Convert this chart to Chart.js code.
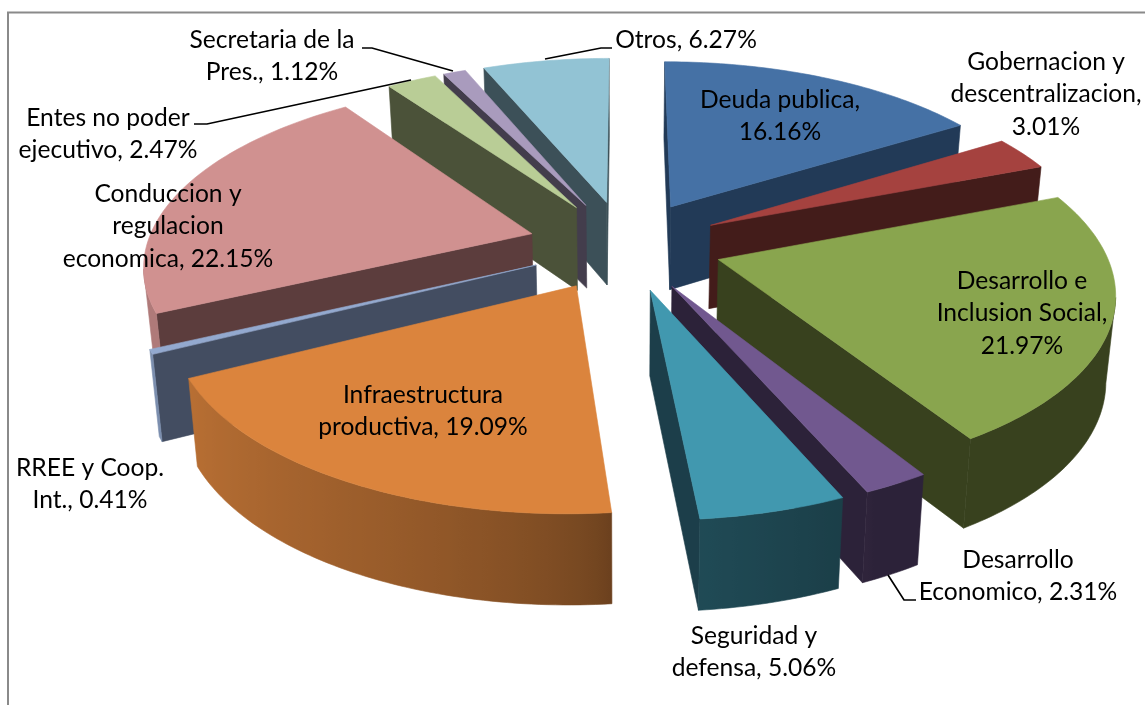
<!DOCTYPE html>
<html><head><meta charset="utf-8">
<style>html,body{margin:0;padding:0;background:#fff;overflow:hidden}canvas{display:block}</style>
<script src="https://cdn.jsdelivr.net/npm/chart.js@4"></script>
</head><body><canvas id="c" width="1145" height="705"></canvas>
<script>
const categories=["Deuda publica","Gobernacion y descentralizacion","Desarrollo e Inclusion Social","Desarrollo Economico","Seguridad y defensa","Infraestructura productiva","RREE y Coop. Int.","Conduccion y regulacion economica","Entes no poder ejecutivo","Secretaria de la Pres.","Otros"];
const values=[16.16,3.01,21.97,2.31,5.06,19.09,0.41,22.15,2.47,1.12,6.27];
const topColors=["#4571a5","#a5423f","#89a54e","#71588f","#4198af","#db843d","#93a9cf","#d09190","#b9cd96","#a99bbd","#92c3d4"];
const wallColors=["#223a57","#431c1a","#38411e","#2c2239","#1c3e4a","#6f441e","#434d61","#5c3d3d","#4b5239","#433d4c","#3c5058"];
const labelLines=[["Deuda publica,","16.16%"],["Gobernacion y","descentralizacion,","3.01%"],["Desarrollo e","Inclusion Social,","21.97%"],["Desarrollo","Economico, 2.31%"],["Seguridad y","defensa, 5.06%"],["Infraestructura","productiva, 19.09%"],["RREE y Coop.","Int., 0.41%"],["Conduccion y","regulacion","economica, 22.15%"],["Entes no poder","ejecutivo, 2.47%"],["Secretaria de la","Pres., 1.12%"],["Otros, 6.27%"]];
const labelCenters=[[780,100],[1046,62],[1022,281],[1018,560],[754,636],[423,395],[90,468],[168,194],[108,118],[272,40],[686,40]];
const leaders=[[[362,48],[372,48],[453,71]],[[612,48],[601,48],[545,59]],[[194,124],[207,124],[411,80]],[[916,600],[904,600],[888,575]]];
const view={cx:625,cy:245,a:178.5,b:385,k:0.155,h:84,hk:0.07,lean:0.98};
const LINE=32.3;
function project(nx,ny,down){const p=1/(1-view.k*ny);const s=down?view.lean:1;return [view.cx+view.b*nx*p*s,view.cy+view.a*ny*p+(down?view.h*(1+view.hk*ny):0)];}
function hex(c){return [1,3,5].map(i=>parseInt(c.substr(i,2),16));}
function shadeFor(t,i){
 const base=topColors[i];let f;
 if(t<=156)return wallColors[i];
 if(t<=175)f=.41+(t-156)/19*.08;else if(t<=243)f=.49+Math.pow((t-175)/68,.6)*.35;else f=.84;
 const c=hex(base);return `rgb(${c.map(v=>Math.round(v*f)).join(',')})`;}
const pie3d={id:'pie3d',
 beforeDraw(chart){const g=chart.ctx;g.save();g.fillStyle='#fff';g.fillRect(0,0,chart.width,chart.height);g.strokeStyle='#8a8a8a';g.lineWidth=2;g.beginPath();g.moveTo(8,chart.height+2);g.lineTo(8,12.5);g.lineTo(chart.width+2,12.5);g.stroke();g.restore();},
 beforeDatasetDraw(chart,args){
  const g=chart.ctx,arcs=args.meta.data;
  const items=arcs.map((el,i)=>{
    const R=el.outerRadius,off=el.options.offset||0,mid=(el.startAngle+el.endAngle)/2;
    return {i,s:el.startAngle,e:el.endAngle,ox:Math.cos(mid)*off/R,oy:Math.sin(mid)*off/R};
  }).sort((u,v)=>u.oy-v.oy);
  g.save();g.lineJoin='round';
  const poly=(pts,col)=>{g.fillStyle=col;g.strokeStyle=col;g.lineWidth=.6;g.beginPath();pts.forEach((q,i)=>i?g.lineTo(q[0],q[1]):g.moveTo(q[0],q[1]));g.closePath();g.fill();g.stroke();};
  for(const it of items){
    const n=Math.max(2,Math.ceil((it.e-it.s)/(Math.PI/180)));
    const rim=[];for(let j=0;j<=n;j++){const a=it.s+(it.e-it.s)*j/n;rim.push([it.ox+Math.cos(a),it.oy+Math.sin(a),a]);}
    const apex=[it.ox,it.oy];
    const side=(A,B,col)=>{const a=project(A[0],A[1]),b=project(B[0],B[1]);if(b[0]>=a[0])return;poly([a,b,project(B[0],B[1],1),project(A[0],A[1],1)],col);};
    side(apex,rim[0],wallColors[it.i]);
    side(rim[n],apex,wallColors[it.i]);
    let run=[];
    const flush=()=>{ if(run.length<2){run=[];return;}
      const top=run.map(r=>project(r[0],r[1])),bot=run.map(r=>project(r[0],r[1],1));
      const x0=top[0][0],x1=top[top.length-1][0];
      const gr=g.createLinearGradient(x0,0,x1,0);
      run.forEach((r,j)=>{const t=Math.min(1,Math.max(0,(top[j][0]-x0)/((x1-x0)||1)));gr.addColorStop(t,shadeFor((r[2]+Math.PI/2)*180/Math.PI,it.i));});
      poly(top.concat(bot.reverse()),gr);run=[];};
    for(let j=0;j<n;j++){
      const a=project(rim[j][0],rim[j][1]),b=project(rim[j+1][0],rim[j+1][1]);
      if(b[0]<a[0]){ if(!run.length)run.push(rim[j]); run.push(rim[j+1]); } else flush();
    }
    flush();
    const top=[project(apex[0],apex[1])].concat(rim.map(r=>project(r[0],r[1])));
    poly(top,topColors[it.i]);
  }
  g.restore();
  return false;
 },
 afterDatasetsDraw(chart){
  const g=chart.ctx;g.save();
  g.strokeStyle='#000';g.lineWidth=1.7;
  for(const l of leaders){g.beginPath();l.forEach((p,i)=>i?g.lineTo(p[0],p[1]):g.moveTo(p[0],p[1]));g.stroke();}
  g.fillStyle='#000';g.font='24.6px Lato';g.textAlign='center';g.textBaseline='middle';
  labelLines.forEach((ls,i)=>{ls.forEach((t,j)=>g.fillText(t,labelCenters[i][0],labelCenters[i][1]+j*LINE));});
  g.restore();
 }
};
new Chart(document.getElementById('c'),{type:'pie',
 data:{labels:categories,datasets:[{data:values,backgroundColor:topColors,borderWidth:0,offset:79}]},
 options:{responsive:false,animation:false,rotation:0,plugins:{legend:{display:false},tooltip:{enabled:false}},layout:{padding:0}},
 plugins:[pie3d]});
</script></body></html>
